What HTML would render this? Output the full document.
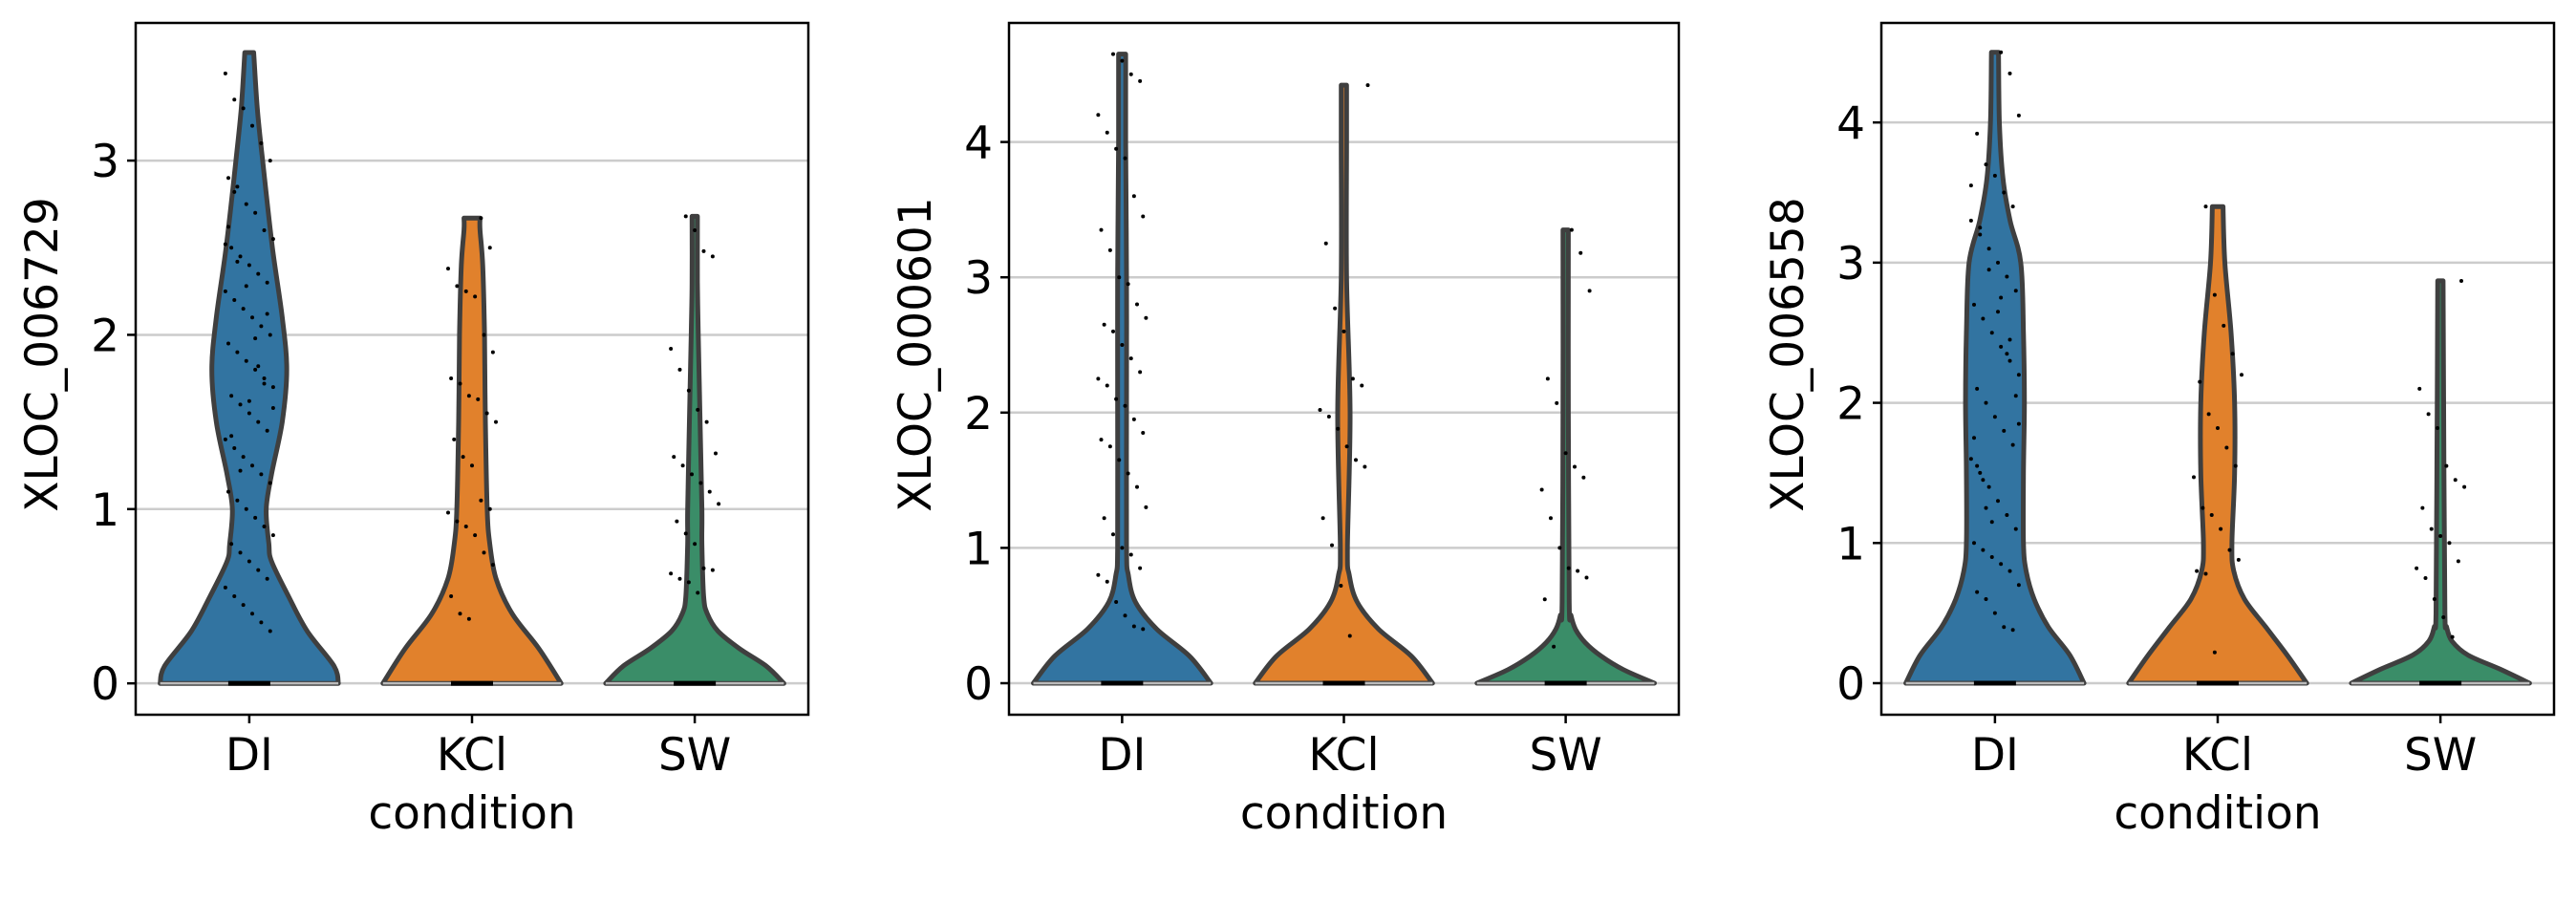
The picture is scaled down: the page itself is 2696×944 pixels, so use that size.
<!DOCTYPE html>
<html><head><meta charset="utf-8"><style>
html,body{margin:0;padding:0;background:#fff;}
svg{display:block;font-family:"DejaVu Sans","Liberation Sans",sans-serif;}
</style></head>
<body>
<svg id="chart" width="2696" height="944" viewBox="0 0 2696 944" xmlns="http://www.w3.org/2000/svg"></svg>
<script>
// ---- data ----
const categories = ["DI", "KCl", "SW"];
const geneNames = ["XLOC_006729", "XLOC_000601", "XLOC_006558"];
const yTicks1 = [0, 1, 2, 3];
const yTicks2 = [0, 1, 2, 3, 4];
const yTicks3 = [0, 1, 2, 3, 4];
const yRange1 = [-0.18, 3.79];
const yRange2 = [-0.233, 4.88];
const yRange3 = [-0.225, 4.71];
// violin profiles: y levels and relative half-widths
const p1DI_y = [0, 0.1, 0.3, 0.5, 0.7, 0.8, 1.0, 1.2, 1.5, 1.8, 2.1, 2.5, 3.0, 3.3, 3.62];
const p1DI_w = [1, 0.95, 0.65, 0.44, 0.25, 0.22, 0.19, 0.25, 0.37, 0.42, 0.37, 0.26, 0.15, 0.09, 0.05];
const p1KCl_y = [0, 0.2, 0.4, 0.6, 0.8, 1.0, 1.5, 2.0, 2.4, 2.6, 2.67];
const p1KCl_w = [1, 0.75, 0.45, 0.27, 0.2, 0.17, 0.15, 0.14, 0.12, 0.09, 0.09];
const p1SW_y = [0, 0.1, 0.2, 0.3, 0.4, 0.5, 0.8, 1.0, 1.5, 2.0, 2.3, 2.68];
const p1SW_w = [1, 0.8, 0.5, 0.26, 0.14, 0.1, 0.08, 0.08, 0.06, 0.04, 0.03, 0.03];
const p2DI_y = [0, 0.2, 0.4, 0.6, 0.8, 1.0, 2.0, 3.0, 4.0, 4.65];
const p2DI_w = [1, 0.76, 0.39, 0.15, 0.07, 0.05, 0.05, 0.05, 0.04, 0.04];
const p2KCl_y = [0, 0.2, 0.4, 0.6, 0.8, 1.0, 2.0, 3.0, 4.0, 4.42];
const p2KCl_w = [1, 0.76, 0.39, 0.15, 0.06, 0.04, 0.07, 0.03, 0.03, 0.03];
const p2SW_y = [0, 0.1, 0.2, 0.3, 0.4, 0.5, 0.6, 2.0, 3.35];
const p2SW_w = [1, 0.65, 0.4, 0.22, 0.11, 0.06, 0.04, 0.03, 0.03];
const p3DI_y = [0, 0.2, 0.4, 0.6, 0.8, 1.0, 1.5, 2.0, 2.5, 3.0, 3.3, 3.6, 4.0, 4.5];
const p3DI_w = [1, 0.84, 0.6, 0.44, 0.35, 0.32, 0.32, 0.33, 0.32, 0.29, 0.17, 0.09, 0.05, 0.04];
const p3KCl_y = [0, 0.2, 0.4, 0.6, 0.8, 1.0, 1.5, 2.0, 2.5, 3.0, 3.4];
const p3KCl_w = [1, 0.78, 0.54, 0.3, 0.18, 0.16, 0.19, 0.19, 0.15, 0.08, 0.06];
const p3SW_y = [0, 0.1, 0.2, 0.3, 0.4, 0.5, 1.5, 2.87];
const p3SW_w = [1, 0.67, 0.31, 0.13, 0.07, 0.05, 0.04, 0.03];
// expression points (non-zero cells)
const pts1DI = [3.5,3.35,3.3,3.2,3.1,3.0,2.9,2.85,2.75,2.7,2.6,2.55,2.5,2.45,2.4,2.35,2.3,2.25,2.2,2.15,2.1,2.05,2.0,1.95,1.9,1.85,1.8,1.75,1.7,1.65,1.6,1.55,1.5,1.45,1.4,1.35,1.3,1.25,1.2,1.15,1.1,1.05,1.0,0.95,0.9,0.85,0.8,0.75,0.7,0.65,0.6,0.55,0.5,0.45,0.4,0.35,0.3,2.62,2.42,2.28,1.98,1.72,1.58,1.42,1.22,1.62,1.82,2.12,2.52,2.82];
const pts1KCl = [2.67,2.5,2.38,2.28,2.25,2.22,2.0,1.9,1.75,1.72,1.65,1.63,1.55,1.5,1.4,1.3,1.25,1.05,1.0,0.98,0.93,0.9,0.85,0.75,0.68,0.5,0.4,0.37];
const pts1SW = [2.68,2.6,2.48,2.45,1.92,1.8,1.68,1.57,1.5,1.32,1.3,1.25,1.2,1.15,1.1,1.03,0.93,0.86,0.8,0.66,0.65,0.63,0.6,0.58,0.52];
const pts2DI = [4.65,4.6,4.5,4.45,4.2,4.07,3.95,3.88,3.6,3.45,3.35,3.2,3.0,2.95,2.8,2.7,2.65,2.6,2.5,2.4,2.3,2.25,2.2,2.1,2.05,1.95,1.85,1.8,1.75,1.65,1.55,1.45,1.3,1.22,1.1,1.0,0.95,0.85,0.8,0.75,0.6,0.5,0.42,0.4];
const pts2KCl = [4.42,3.25,2.77,2.6,2.25,2.2,2.02,1.97,1.88,1.75,1.65,1.6,1.22,1.02,0.72,0.35];
const pts2SW = [3.35,3.18,2.9,2.25,2.07,1.7,1.6,1.52,1.43,1.22,1.0,0.85,0.83,0.78,0.62,0.27];
const pts3DI = [4.5,4.35,4.05,3.92,3.7,3.62,3.5,3.4,3.3,3.2,3.1,3.0,2.9,2.8,2.7,2.6,2.5,2.4,2.3,2.2,2.1,2.0,1.9,1.8,1.7,1.6,1.5,1.4,1.3,1.2,1.1,1.0,0.95,0.9,0.85,0.8,0.7,0.65,0.6,0.5,0.4,0.38,3.55,3.25,2.95,2.65,2.35,2.05,1.75,1.45,1.15,2.75,2.45,1.85,1.55,1.25];
const pts3KCl = [3.4,2.77,2.55,2.35,2.2,2.15,1.92,1.82,1.68,1.55,1.47,1.25,1.2,1.1,0.95,0.88,0.8,0.78,0.22];
const pts3SW = [2.87,2.1,1.92,1.82,1.55,1.45,1.4,1.25,1.1,1.05,1.0,0.87,0.82,0.75,0.6,0.47,0.33];

const violinColors = ["#3274a1", "#e1812c", "#3a8d68"];
const panels = [
  {left:142, right:846, yr:yRange1, ticks:yTicks1, label:geneNames[0], prof:[[p1DI_y,p1DI_w],[p1KCl_y,p1KCl_w],[p1SW_y,p1SW_w]], pts:[pts1DI,pts1KCl,pts1SW]},
  {left:1056, right:1757, yr:yRange2, ticks:yTicks2, label:geneNames[1], prof:[[p2DI_y,p2DI_w],[p2KCl_y,p2KCl_w],[p2SW_y,p2SW_w]], pts:[pts2DI,pts2KCl,pts2SW]},
  {left:1969, right:2673, yr:yRange3, ticks:yTicks3, label:geneNames[2], prof:[[p3DI_y,p3DI_w],[p3KCl_y,p3KCl_w],[p3SW_y,p3SW_w]], pts:[pts3DI,pts3KCl,pts3SW]}
];
const TOP = 24, BOTTOM = 748;
const FS = 47;
const NS = "http://www.w3.org/2000/svg";
const svg = document.getElementById("chart");
function mk(tag, attrs, parent) {
  const e = document.createElementNS(NS, tag);
  for (const k in attrs) e.setAttribute(k, attrs[k]);
  (parent || svg).appendChild(e);
  return e;
}
function smoothPath(pts) {
  let d = "M" + pts[0][0].toFixed(1) + "," + pts[0][1].toFixed(1);
  for (let i = 0; i < pts.length - 1; i++) {
    const p0 = pts[Math.max(0, i - 1)], p1 = pts[i], p2 = pts[i + 1], p3 = pts[Math.min(pts.length - 1, i + 2)];
    const c1 = [p1[0] + (p2[0] - p0[0]) / 6, p1[1] + (p2[1] - p0[1]) / 6];
    const c2 = [p2[0] - (p3[0] - p1[0]) / 6, p2[1] - (p3[1] - p1[1]) / 6];
    d += " C" + c1[0].toFixed(1) + "," + c1[1].toFixed(1) + " " + c2[0].toFixed(1) + "," + c2[1].toFixed(1) + " " + p2[0].toFixed(1) + "," + p2[1].toFixed(1);
  }
  return d;
}
panels.forEach((P, pi) => {
  const g = mk("g", {});
  
  
  const xs = c => P.left + (c + 0.51) / 3.02 * (P.right - P.left);
  const ys = v => BOTTOM - (v - P.yr[0]) / (P.yr[1] - P.yr[0]) * (BOTTOM - TOP);
  const unit = (P.right - P.left) / 3.02;
  const maxHW = 0.4 * unit;
  P.ticks.forEach(t => {
    const gl = mk("line", {x1:P.left, x2:P.right, y1:ys(t), y2:ys(t), stroke:"#cccccc", "stroke-width":2.5}, g);
    
    
  });
  P.prof.forEach((pr, ci) => {
    const cx = xs(ci);
    const yv = pr[0], wv = pr[1];
    const right = yv.map((v, i) => [cx + wv[i] * maxHW, ys(v)]);
    const left = yv.map((v, i) => [cx - wv[i] * maxHW, ys(v)]).reverse();
    let d = smoothPath(right);
    d += " L" + left[0][0].toFixed(1) + "," + left[0][1].toFixed(1);
    d += smoothPath(left).replace(/^M[^ C]*/, "");
    d += " Z";
    const vp = mk("path", {d:d, fill:violinColors[ci], stroke:"#3f3f3f", "stroke-width":5, "stroke-linejoin":"round"}, g);
    
    
    const zl = mk("line", {x1:cx - maxHW, x2:cx + maxHW, y1:ys(0), y2:ys(0), stroke:"#bbbbbb", "stroke-width":2.5}, g);
    
    
    const zr = mk("rect", {x:cx - 22, y:ys(0) - 2.5, width:44, height:5, fill:"#000"}, g);
    
    
    P.pts[ci].forEach((v, i) => {
      const jx = (((i * 37 + ci * 11 + pi * 5) % 17) / 16 - 0.5) * 50;
      const dot = mk("circle", {cx:cx + jx, cy:ys(v), r:2, fill:"#000"}, g);
      
      
    });
  });
  const fr = mk("rect", {x:P.left, y:TOP, width:P.right - P.left, height:BOTTOM - TOP, fill:"none", stroke:"#000", "stroke-width":2.5}, g);
  
  
  P.ticks.forEach(t => {
    mk("line", {x1:P.left - 9, x2:P.left, y1:ys(t), y2:ys(t), stroke:"#000", "stroke-width":2.5}, g);
    const tl = mk("text", {x:P.left - 17, y:ys(t) + 17, "text-anchor":"end", "font-size":FS, fill:"#000"}, g);
    tl.textContent = String(t);
    
    
  });
  categories.forEach((c, ci) => {
    mk("line", {x1:xs(ci), x2:xs(ci), y1:BOTTOM, y2:BOTTOM + 9, stroke:"#000", "stroke-width":2.5}, g);
    const xl = mk("text", {x:xs(ci), y:806, "text-anchor":"middle", "font-size":FS, fill:"#000"}, g);
    xl.textContent = c;
    
    
  });
  const xt = mk("text", {x:(P.left + P.right) / 2, y:867, "text-anchor":"middle", "font-size":FS, fill:"#000"}, g);
  xt.textContent = "condition";
  
  
  const yx = P.left - 82, yy = (TOP + BOTTOM) / 2 - 15;
  const yt = mk("text", {x:yx, y:yy, "text-anchor":"middle", "font-size":FS, fill:"#000", transform:"rotate(-90 " + yx + " " + yy + ")"}, g);
  yt.textContent = P.label;
  
  
});
</script>
</body></html>
